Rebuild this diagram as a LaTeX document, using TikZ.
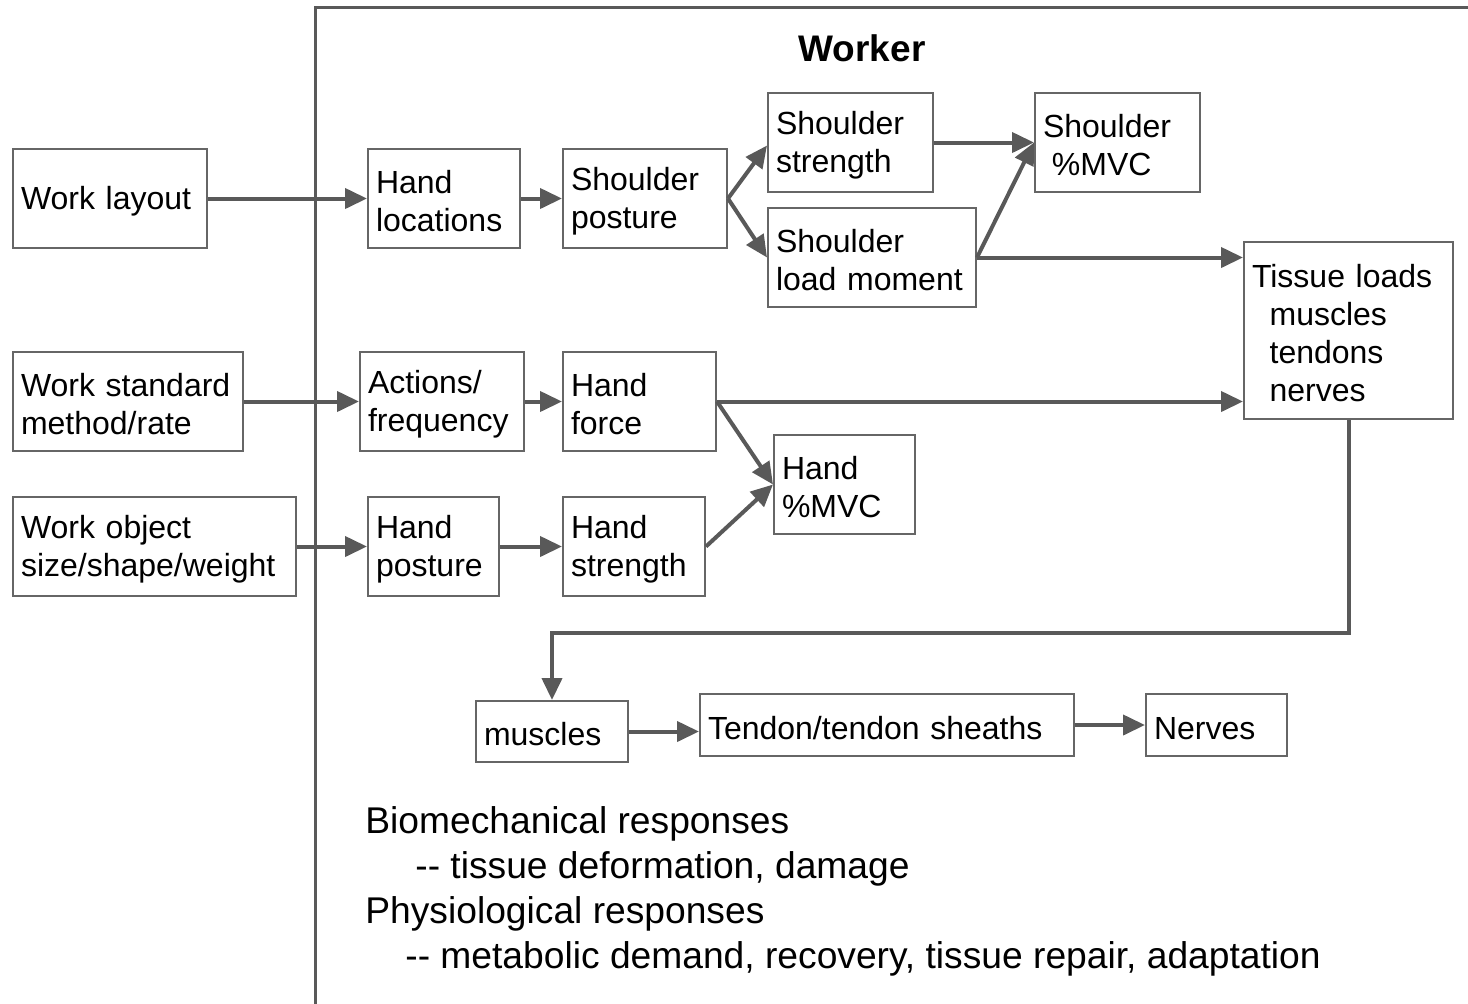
\documentclass[tikz,border=0pt]{standalone}
\usepackage{fontspec}
\setmainfont{Liberation Sans}[Ligatures=TeXOff]
\usetikzlibrary{arrows.meta,calc}
\definecolor{boxgray}{HTML}{666666}
\definecolor{linegray}{HTML}{595959}
\newcommand\mkbox[6]{%
  \pgfmathsetmacro\bxtw{#4/2-8}%
  \pgfmathsetmacro\bxmh{#5/2}%
  \node[box,text width=\bxtw pt,minimum height=\bxmh pt,anchor=north west] (#1) at (#2,#3) {\rule{0pt}{14.6pt}#6};}
\begin{document}
\begin{tikzpicture}[x=0.5pt,y=-0.5pt,
  box/.style={draw=boxgray,line width=1pt,fill=white,inner xsep=4pt,inner ysep=0pt,align=left,
    font=\fontsize{16}{19}\selectfont},
  arr/.style={draw=linegray,line width=2pt,-{Triangle[length=11pt,width=10pt]}},
  frame/.style={draw=linegray,line width=1.5pt},
  note/.style={anchor=base west,inner sep=0pt,font=\fontsize{18.6}{22.5}\selectfont}]
\useasboundingbox (0,0) rectangle (1468,1003);
\draw[frame] (315,1010) -- (315,7) -- (1475,7);
\node[font=\fontsize{18.5}{22}\selectfont\bfseries] (worker) at (862,48) {Worker};
% boxes
\mkbox{wl}{12}{148}{194}{99}{Work layout}
\mkbox{hl}{367}{148}{152}{99}{Hand\\locations}
\mkbox{sp}{562}{148}{164}{99}{Shoulder\\posture}
\mkbox{ss}{767}{92}{165}{99}{Shoulder\\strength}
\mkbox{ls}{767}{207}{208}{99}{Shoulder\\load moment}
\mkbox{sm}{1034}{92}{165}{99}{Shoulder\\\hspace*{0.28em}\%MVC}
\mkbox{tl}{1243}{241}{209}{177}{Tissue loads\\\hspace*{0.55em}muscles\\\hspace*{0.55em}tendons\\\hspace*{0.55em}nerves}
\mkbox{ws}{12}{351}{230}{99}{Work standard\\method/rate}
\mkbox{af}{359}{351}{164}{99}{Actions/\\frequency}
\mkbox{hf}{562}{351}{153}{99}{Hand\\force}
\mkbox{hm}{773}{434}{141}{99}{Hand\\\%MVC}
\mkbox{wo}{12}{496}{283}{99}{Work object\\size/shape/weight}
\mkbox{hp}{367}{496}{131}{99}{Hand\\posture}
\mkbox{hs}{562}{496}{142}{99}{Hand\\strength}
\mkbox{mu}{475}{700}{152}{61}{muscles}
\mkbox{td}{699}{693}{374}{62}{Tendon/tendon sheaths}
\mkbox{ne}{1145}{693}{141}{62}{Nerves}
% connectors
\draw[arr] (wl.east) -- (hl.west);
\draw[arr] (hl.east) -- (sp.west);
\draw[arr] (sp.east) -- ($(ss.west)+(0,3)$);
\draw[arr] (sp.east) -- (ls.west);
\draw[arr] (ss.east) -- (sm.west);
\draw[arr] (ls.east) -- (sm.west);
\draw[arr] (ls.east) -- (ls.east -| tl.west);
\draw[arr] (ws.east) -- (af.west);
\draw[arr] (af.east) -- (hf.west);
\draw[arr] (hf.east) -- (hf.east -| tl.west);
\draw[arr] (hf.east) -- (hm.west);
\draw[arr] (wo.east) -- (hp.west);
\draw[arr] (hp.east) -- (hs.west);
\draw[arr] (hs.east) -- (hm.west);
\draw[arr] (tl.south) -- ++(0,213) -| (mu.north);
\draw[arr] (mu.east) -- (mu.east -| td.west);
\draw[arr] (td.east) -- (ne.west);
% notes
\node[note] (n1) at (365,833) {Biomechanical responses};
\node[note] (n2) at (415,878) {-- tissue deformation, damage};
\node[note] (n3) at (365,923) {Physiological responses};
\node[note] (n4) at (405,968) {-- metabolic demand, recovery, tissue repair, adaptation};
\end{tikzpicture}
\end{document}
